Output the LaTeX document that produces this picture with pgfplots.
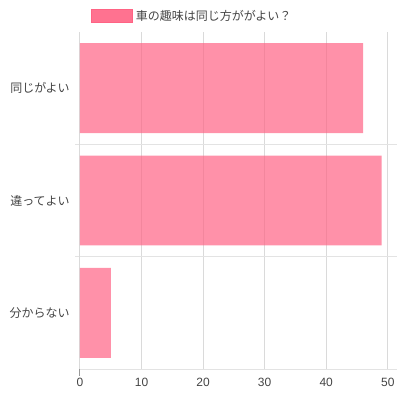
\documentclass[border=0pt]{standalone}
\usepackage{pgfplots}
\pgfplotsset{compat=1.18}
\usepackage{fontspec}
\setmainfont{Liberation Sans}
\newfontfamily\jp{Noto Sans CJK JP}
\definecolor{barpink}{RGB}{255,99,132}
\definecolor{lightpink}{RGB}{255,150,174}
\definecolor{txt}{HTML}{444444}
\definecolor{gridh}{HTML}{E3E3E3}
\definecolor{gridv}{HTML}{DADADA}
\begin{document}
\begin{tikzpicture}
\useasboundingbox (0,0) rectangle (297.75pt,-297.75pt);
\begin{axis}[
  at={(60pt,-276.75pt)}, anchor=south west,
  scale only axis, width=237.75pt, height=252.75pt,
  xmin=0, xmax=51.5, ymin=-0.5, ymax=2.5, y dir=reverse,
  axis line style={draw=none},
  clip=false,
  xtick={10,20,30,40,50},
  extra x ticks={0},
  extra x tick style={grid style={draw=black!40, line width=0.75pt}},
  ytick={0,1,2},
  yticklabels={同じがよい,違ってよい,分からない},
  minor ytick={0.5,1.5},
  extra y ticks={-0.5},
  extra y tick labels={},
  extra y tick style={grid style={draw=black!28, line width=0.75pt}, major tick length=0pt},
  xmajorgrids=true,
  major grid style={draw=gridv, line width=0.75pt},
  yminorgrids=true,
  minor grid style={draw=gridh, line width=0.75pt},
  tick align=outside,
  major tick length=0pt,
  minor tick length=3.75pt,
  minor tick style={draw=gridh, line width=0.75pt},
  xtick pos=bottom, ytick pos=left,
  /pgf/number format/assume math mode=true,
  xticklabel style={font=\fontsize{9pt}{11pt}\selectfont, text=txt, inner sep=0pt, yshift=-7pt},
  yticklabel style={font=\jp\fontsize{9pt}{11pt}\selectfont, text=txt, inner sep=0pt, xshift=-7.5pt},
  legend style={at={(0.0347,1.0475)}, anchor=west, draw=none, fill=none, inner sep=0pt,
    font=\jp\fontsize{9pt}{11pt}\selectfont, text=txt,
    nodes={inner sep=2.25pt}},
  legend image code/.code={
    \path[fill=lightpink, fill opacity=1] (0pt,-4.7pt) rectangle (30.4pt,4.7pt);
    \path[draw=barpink, draw opacity=1, line width=0.8pt] (0pt,-4.7pt) -- (30.4pt,-4.7pt) -- (30.4pt,4.7pt) -- (0pt,4.7pt) -- cycle;},
]
\draw[draw=gridh, line width=0.75pt] (axis cs:0,2.5) -- (axis cs:51.5,2.5);
\draw[draw=black!40, line width=0.75pt] (axis cs:0,2.5) -- ++(0pt,-5pt);
\addplot[xbar, bar width=0.8, fill=barpink, fill opacity=0.7, draw=none]
  coordinates {(46,0) (49,1) (5,2)};
\addlegendentry{車の趣味は同じ方ががよい？}
\end{axis}
\end{tikzpicture}
\end{document}
